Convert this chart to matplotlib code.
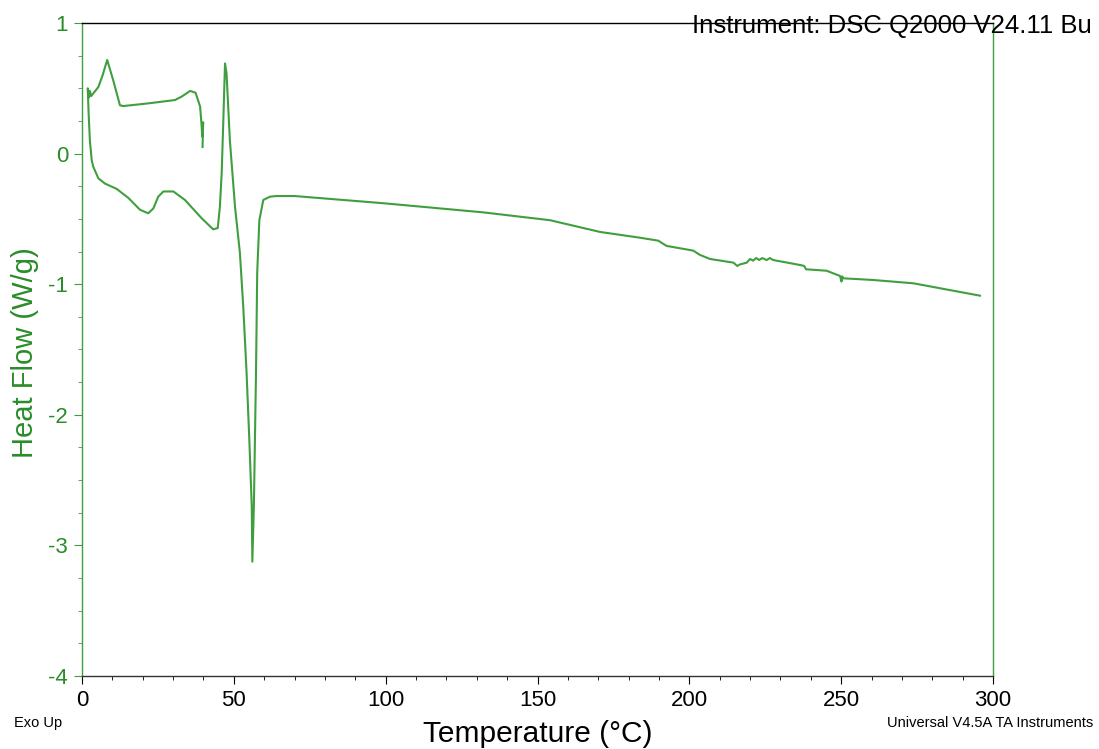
import matplotlib
matplotlib.use("Agg")
import matplotlib.pyplot as plt
from matplotlib.ticker import MultipleLocator

plt.rcParams['font.family'] = ['Liberation Sans', 'DejaVu Sans']
plt.rcParams['axes.unicode_minus'] = False

# cooling segment (40 -> 0 C)
cool_temp = [39.7, 39.9, 39.6, 39.4, 38.9, 37.4, 35.6, 32.8, 30.6, 22.0, 13.6,
             12.5, 10.3, 8.3, 6.8, 5.4, 3.0, 2.6, 2.3, 1.9]
cool_hf = [0.05, 0.24, 0.13, 0.21, 0.36, 0.466, 0.48, 0.436, 0.41, 0.385, 0.364,
           0.37, 0.56, 0.717, 0.60, 0.51, 0.44, 0.48, 0.43, 0.50]

# heating segment (0 -> 300 C)
heat_temp = [1.9, 2.2, 2.6, 3.2, 3.7, 5.4, 7.6, 11.4, 15.3, 19.1, 21.8, 23.5,
             25.1, 26.8, 30.1, 33.9, 39.4, 43.2, 44.7, 45.4, 46.0, 46.6, 47.1,
             47.6, 48.7, 50.4, 52.0, 53.1, 54.2, 55.1, 55.9, 56.1, 56.6, 57.3,
             57.7, 58.4, 59.7, 61.9, 64.0, 70.0, 99.2, 132.1, 154.1, 170.6,
             183.7, 189.8, 190.3, 192.5, 201.3, 203.5, 206.8, 214.5, 215.8,
             216.5, 218.9, 220.0, 221.0, 222.0, 223.0, 224.0, 225.5, 226.5,
             227.6, 236.4, 237.8, 238.4, 245.2, 249.6, 250.1, 250.3, 250.7,
             260.6, 273.7, 286.9, 295.7]
heat_hf = [0.50, 0.30, 0.10, -0.05, -0.10, -0.19, -0.23, -0.27, -0.34, -0.43,
           -0.457, -0.42, -0.33, -0.29, -0.29, -0.355, -0.495, -0.58, -0.57,
           -0.41, -0.15, 0.30, 0.69, 0.615, 0.10, -0.41, -0.76, -1.17, -1.68,
           -2.19, -2.70, -3.125, -2.70, -1.68, -0.91, -0.51, -0.355, -0.33,
           -0.325, -0.325, -0.38, -0.45, -0.51, -0.60, -0.644, -0.667, -0.675,
           -0.707, -0.743, -0.776, -0.807, -0.835, -0.861, -0.85, -0.835,
           -0.807, -0.82, -0.80, -0.815, -0.80, -0.815, -0.80, -0.815, -0.853,
           -0.86, -0.886, -0.897, -0.937, -0.98, -0.94, -0.955, -0.968,
           -0.993, -1.05, -1.088]

line_green = '#3f9f3f'
text_green = '#2a8c2a'

fig = plt.figure(figsize=(10.99, 7.49), dpi=100)
ax = fig.add_axes([0.0746, 0.0975, 0.8290, 0.8718])

ax.plot(cool_temp + heat_temp, cool_hf + heat_hf, color=line_green, lw=1.5)

ax.set_xlim(0, 300)
ax.set_ylim(-4, 1)
ax.xaxis.set_major_locator(MultipleLocator(50))
ax.xaxis.set_minor_locator(MultipleLocator(10))
ax.yaxis.set_major_locator(MultipleLocator(1))
ax.yaxis.set_minor_locator(MultipleLocator(0.25))

ax.spines['left'].set_color(line_green)
ax.spines['right'].set_color(line_green)
ax.spines['top'].set_color('black')
ax.spines['bottom'].set_color('#333333')
for s in ax.spines.values():
    s.set_linewidth(1.0)

ax.tick_params(axis='x', which='major', length=6, colors='black', labelsize=16, pad=4)
ax.tick_params(axis='x', which='minor', length=3, colors='black')
ax.tick_params(axis='y', which='major', length=6, colors=line_green, labelcolor=text_green,
               labelsize=16, pad=4)
ax.tick_params(axis='y', which='minor', length=3, colors=line_green)

ax.set_xlabel('Temperature (°C)', fontsize=21.5, va='baseline')
ax.xaxis.set_label_coords(0.5, -0.101)
ax.set_ylabel('Heat Flow (W/g)', fontsize=21, color=text_green)
ax.yaxis.set_label_coords(-0.047, 0.495)

fig.text(692 / 1099, 1 - 33 / 749, 'Instrument: DSC Q2000 V24.11 Bu', fontsize=18.5,
         color='black', ha='left', va='baseline')
fig.text(14 / 1099, 1 - 727 / 749, 'Exo Up', fontsize=10.5, color='black',
         ha='left', va='baseline')
fig.text(1093 / 1099, 1 - 727 / 749, 'Universal V4.5A TA Instruments', fontsize=10.5,
         color='black', ha='right', va='baseline')

fig.savefig('out.png', dpi=100)
